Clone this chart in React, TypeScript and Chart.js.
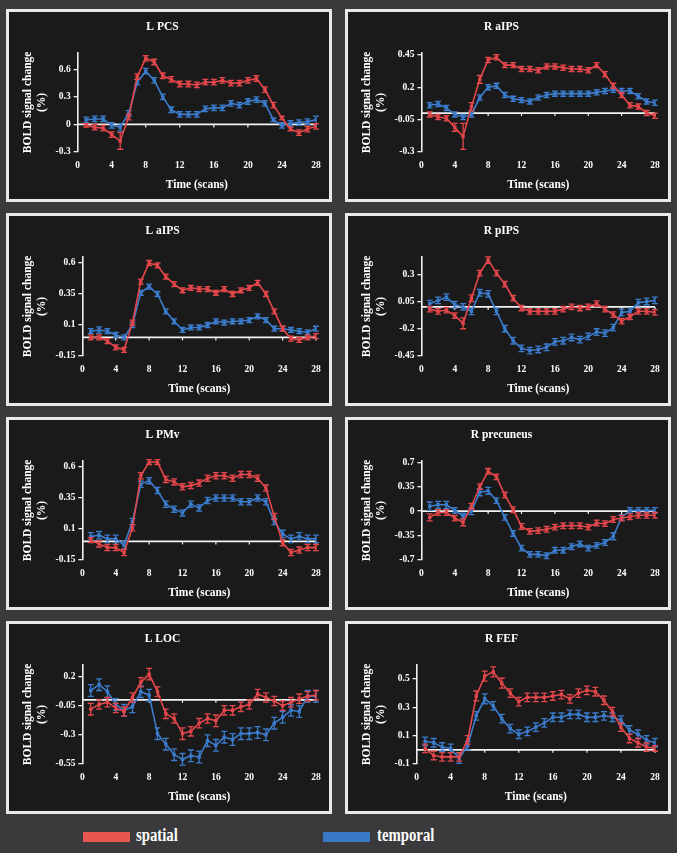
import React, { useEffect, useRef } from 'react';
import { Chart, registerables } from 'chart.js';

Chart.register(...registerables);

// ---------- data ----------
const scans = [1, 2, 3, 4, 5, 6, 7, 8, 9, 10, 11, 12, 13, 14, 15, 16, 17, 18, 19, 20, 21, 22, 23, 24, 25, 26, 27, 28];
const xTickValues = [0, 4, 8, 12, 16, 20, 24, 28];

const seriesNames = ['spatial', 'temporal'];

// L PCS
const lpcsSpatial = [-0.01, -0.03, -0.04, -0.11, -0.18, 0.08, 0.52, 0.72, 0.68, 0.53, 0.49, 0.44, 0.44, 0.43, 0.46, 0.46, 0.48, 0.45, 0.45, 0.48, 0.5, 0.38, 0.21, 0.07, -0.05, -0.09, -0.05, -0.02];
const lpcsSpatialErr = [0.02, 0.03, 0.03, 0.03, 0.09, 0.03, 0.03, 0.03, 0.03, 0.03, 0.03, 0.03, 0.03, 0.03, 0.03, 0.03, 0.03, 0.03, 0.03, 0.03, 0.03, 0.03, 0.03, 0.02, 0.02, 0.03, 0.03, 0.03];
const lpcsTemporal = [0.05, 0.06, 0.06, -0.01, -0.03, 0.12, 0.46, 0.58, 0.48, 0.3, 0.16, 0.11, 0.11, 0.11, 0.17, 0.18, 0.18, 0.23, 0.21, 0.25, 0.27, 0.23, 0.05, -0.01, 0.01, 0.02, 0.03, 0.05];
const lpcsTemporalErr = [0.03, 0.03, 0.03, 0.03, 0.04, 0.03, 0.03, 0.03, 0.03, 0.03, 0.03, 0.03, 0.03, 0.03, 0.03, 0.03, 0.03, 0.03, 0.03, 0.03, 0.03, 0.03, 0.02, 0.03, 0.03, 0.03, 0.03, 0.04];
const lpcsTicks = [-0.3, 0, 0.3, 0.6];

// R aIPS
const raipsSpatial = [-0.01, -0.03, -0.04, -0.11, -0.18, 0.05, 0.26, 0.41, 0.43, 0.37, 0.37, 0.34, 0.34, 0.33, 0.36, 0.36, 0.35, 0.34, 0.34, 0.33, 0.37, 0.3, 0.21, 0.14, 0.06, 0.05, 0.0, -0.02];
const raipsSpatialErr = [0.02, 0.02, 0.02, 0.03, 0.1, 0.03, 0.03, 0.02, 0.02, 0.02, 0.02, 0.02, 0.02, 0.02, 0.02, 0.02, 0.02, 0.02, 0.02, 0.02, 0.02, 0.02, 0.02, 0.02, 0.02, 0.02, 0.02, 0.02];
const raipsTemporal = [0.06, 0.07, 0.04, -0.01, -0.03, -0.01, 0.12, 0.2, 0.21, 0.14, 0.11, 0.1, 0.09, 0.12, 0.14, 0.15, 0.15, 0.15, 0.15, 0.15, 0.16, 0.17, 0.18, 0.17, 0.17, 0.13, 0.09, 0.08];
const raipsTemporalErr = [0.02, 0.02, 0.02, 0.02, 0.02, 0.02, 0.02, 0.02, 0.02, 0.02, 0.02, 0.02, 0.02, 0.02, 0.02, 0.02, 0.02, 0.02, 0.02, 0.02, 0.02, 0.02, 0.02, 0.02, 0.02, 0.02, 0.02, 0.02];
const raipsTicks = [-0.3, -0.05, 0.2, 0.45];

// L aIPS
const laipsSpatial = [0.0, 0.0, -0.03, -0.08, -0.1, 0.12, 0.45, 0.6, 0.58, 0.49, 0.43, 0.38, 0.4, 0.39, 0.39, 0.36, 0.39, 0.35, 0.38, 0.4, 0.44, 0.35, 0.21, 0.07, -0.01, -0.02, 0.0, 0.01];
const laipsSpatialErr = [0.02, 0.02, 0.02, 0.02, 0.02, 0.02, 0.02, 0.02, 0.02, 0.02, 0.02, 0.02, 0.02, 0.02, 0.02, 0.02, 0.02, 0.02, 0.02, 0.02, 0.02, 0.02, 0.02, 0.02, 0.02, 0.02, 0.02, 0.02];
const laipsTemporal = [0.05, 0.06, 0.05, 0.02, 0.0, 0.1, 0.36, 0.41, 0.35, 0.21, 0.13, 0.06, 0.08, 0.08, 0.1, 0.13, 0.12, 0.13, 0.13, 0.14, 0.17, 0.14, 0.07, 0.07, 0.06, 0.05, 0.04, 0.07];
const laipsTemporalErr = [0.02, 0.025, 0.02, 0.02, 0.02, 0.02, 0.02, 0.02, 0.02, 0.02, 0.02, 0.02, 0.02, 0.02, 0.02, 0.02, 0.02, 0.02, 0.02, 0.02, 0.02, 0.02, 0.02, 0.02, 0.02, 0.02, 0.02, 0.02];
const laipsTicks = [-0.15, 0.1, 0.35, 0.6];

// R pIPS
const rpipsSpatial = [-0.02, -0.04, -0.03, -0.08, -0.15, 0.08, 0.31, 0.43, 0.31, 0.21, 0.08, -0.01, -0.04, -0.04, -0.04, -0.04, -0.02, 0.0, -0.01, 0.0, 0.03, -0.02, -0.07, -0.13, -0.09, -0.04, -0.04, -0.05];
const rpipsSpatialErr = [0.025, 0.025, 0.025, 0.025, 0.05, 0.03, 0.025, 0.03, 0.025, 0.025, 0.025, 0.025, 0.025, 0.025, 0.025, 0.025, 0.025, 0.025, 0.025, 0.025, 0.025, 0.025, 0.025, 0.025, 0.025, 0.025, 0.025, 0.025];
const rpipsTemporal = [0.03, 0.06, 0.09, 0.02, 0.0, -0.04, 0.13, 0.12, -0.04, -0.2, -0.31, -0.38, -0.4, -0.39, -0.37, -0.32, -0.31, -0.28, -0.3, -0.27, -0.23, -0.24, -0.19, -0.05, -0.04, 0.04, 0.05, 0.06];
const rpipsTemporalErr = [0.03, 0.03, 0.03, 0.03, 0.03, 0.03, 0.03, 0.03, 0.03, 0.03, 0.03, 0.03, 0.03, 0.03, 0.03, 0.03, 0.03, 0.03, 0.03, 0.03, 0.03, 0.03, 0.03, 0.03, 0.03, 0.03, 0.03, 0.03];
const rpipsTicks = [-0.45, -0.2, 0.05, 0.3];

// L PMv
const lpmvSpatial = [0.01, -0.02, -0.05, -0.05, -0.09, 0.11, 0.53, 0.64, 0.64, 0.5, 0.48, 0.44, 0.45, 0.47, 0.51, 0.53, 0.53, 0.51, 0.54, 0.54, 0.51, 0.43, 0.2, -0.01, -0.09, -0.07, -0.05, -0.05];
const lpmvSpatialErr = [0.02, 0.025, 0.025, 0.025, 0.025, 0.025, 0.025, 0.02, 0.02, 0.025, 0.025, 0.025, 0.025, 0.025, 0.025, 0.025, 0.025, 0.025, 0.025, 0.025, 0.025, 0.025, 0.025, 0.025, 0.025, 0.025, 0.025, 0.025];
const lpmvTemporal = [0.04, 0.05, 0.02, 0.02, -0.03, 0.16, 0.46, 0.49, 0.41, 0.3, 0.26, 0.23, 0.3, 0.27, 0.33, 0.35, 0.35, 0.35, 0.32, 0.32, 0.35, 0.32, 0.16, 0.06, 0.02, 0.04, 0.02, 0.02];
const lpmvTemporalErr = [0.03, 0.03, 0.03, 0.03, 0.03, 0.025, 0.025, 0.025, 0.025, 0.025, 0.025, 0.025, 0.025, 0.025, 0.025, 0.025, 0.025, 0.025, 0.025, 0.025, 0.025, 0.025, 0.025, 0.03, 0.03, 0.03, 0.03, 0.03];
const lpmvTicks = [-0.15, 0.1, 0.35, 0.6];

// R precuneus
const rprecSpatial = [-0.09, -0.02, -0.02, -0.1, -0.16, 0.07, 0.35, 0.57, 0.49, 0.23, 0.02, -0.22, -0.29, -0.28, -0.26, -0.23, -0.21, -0.21, -0.21, -0.23, -0.17, -0.18, -0.12, -0.1, -0.08, -0.06, -0.06, -0.06];
const rprecSpatialErr = [0.05, 0.04, 0.04, 0.04, 0.05, 0.04, 0.04, 0.04, 0.04, 0.04, 0.04, 0.04, 0.04, 0.04, 0.04, 0.04, 0.04, 0.04, 0.04, 0.04, 0.04, 0.04, 0.04, 0.04, 0.04, 0.04, 0.04, 0.04];
const rprecTemporal = [0.07, 0.09, 0.09, 0.01, -0.07, 0.0, 0.27, 0.29, 0.15, -0.09, -0.32, -0.53, -0.62, -0.62, -0.64, -0.56, -0.56, -0.51, -0.47, -0.53, -0.49, -0.45, -0.36, -0.09, 0.01, 0.01, 0.01, 0.01];
const rprecTemporalErr = [0.06, 0.05, 0.05, 0.04, 0.04, 0.05, 0.05, 0.05, 0.04, 0.04, 0.04, 0.04, 0.04, 0.04, 0.04, 0.04, 0.04, 0.04, 0.04, 0.04, 0.04, 0.04, 0.05, 0.04, 0.04, 0.04, 0.04, 0.04];
const rprecTicks = [-0.7, -0.35, 0, 0.35, 0.7];

// L LOC
const llocSpatial = [-0.08, -0.04, -0.02, -0.07, -0.1, 0.02, 0.15, 0.22, 0.07, -0.12, -0.16, -0.29, -0.27, -0.2, -0.16, -0.18, -0.09, -0.09, -0.06, -0.04, 0.05, 0.02, -0.01, -0.05, -0.02, 0.01, 0.03, 0.04];
const llocSpatialErr = [0.05, 0.04, 0.04, 0.04, 0.04, 0.04, 0.04, 0.05, 0.04, 0.04, 0.04, 0.05, 0.04, 0.04, 0.04, 0.05, 0.04, 0.04, 0.04, 0.04, 0.04, 0.04, 0.04, 0.04, 0.04, 0.04, 0.04, 0.04];
const llocTemporal = [0.08, 0.13, 0.07, -0.04, -0.09, -0.06, 0.07, 0.04, -0.29, -0.38, -0.47, -0.51, -0.48, -0.49, -0.35, -0.39, -0.32, -0.34, -0.29, -0.29, -0.28, -0.3, -0.2, -0.15, -0.09, -0.1, 0.03, 0.03];
const llocTemporalErr = [0.05, 0.05, 0.05, 0.05, 0.05, 0.05, 0.05, 0.05, 0.05, 0.05, 0.05, 0.05, 0.05, 0.05, 0.05, 0.05, 0.05, 0.05, 0.05, 0.05, 0.05, 0.05, 0.05, 0.05, 0.05, 0.05, 0.05, 0.05];
const llocTicks = [-0.55, -0.3, -0.05, 0.2];

// R FEF
const rfefSpatial = [0.01, -0.04, -0.05, -0.05, -0.05, 0.07, 0.38, 0.52, 0.55, 0.47, 0.4, 0.34, 0.37, 0.37, 0.37, 0.38, 0.39, 0.36, 0.4, 0.42, 0.41, 0.35, 0.27, 0.16, 0.08, 0.05, 0.02, 0.01];
const rfefSpatialErr = [0.03, 0.03, 0.03, 0.03, 0.03, 0.03, 0.035, 0.035, 0.035, 0.035, 0.03, 0.03, 0.03, 0.03, 0.03, 0.03, 0.03, 0.03, 0.03, 0.03, 0.03, 0.03, 0.03, 0.03, 0.03, 0.03, 0.03, 0.02];
const rfefTemporal = [0.06, 0.05, 0.02, 0.01, -0.06, 0.03, 0.24, 0.36, 0.31, 0.22, 0.15, 0.11, 0.13, 0.16, 0.19, 0.23, 0.23, 0.25, 0.25, 0.23, 0.23, 0.24, 0.23, 0.21, 0.14, 0.11, 0.07, 0.05];
const rfefTemporalErr = [0.03, 0.03, 0.03, 0.03, 0.035, 0.03, 0.03, 0.035, 0.03, 0.03, 0.03, 0.03, 0.03, 0.03, 0.03, 0.03, 0.03, 0.03, 0.03, 0.03, 0.03, 0.03, 0.03, 0.03, 0.03, 0.03, 0.03, 0.03];
const rfefTicks = [-0.1, 0.1, 0.3, 0.5];

// ---------- styles ----------
const RED = '#e3474b';
const BLUE = '#3c7ccc';
const PAGE_BG = '#3a3a3c';
const PANEL_BG = '#1a1a1a';
const SERIF = "'Liberation Serif', 'Times New Roman', serif";

type PanelDef = {
  title: string;
  spatial: number[];
  spatialErr: number[];
  temporal: number[];
  temporalErr: number[];
  ticks: number[];
  yMax: number;
  left: number;
  top: number;
};

const COL = [6, 345];
const ROW = [9, 213, 417, 621];

const panels: PanelDef[] = [
  { title: 'L PCS', spatial: lpcsSpatial, spatialErr: lpcsSpatialErr, temporal: lpcsTemporal, temporalErr: lpcsTemporalErr, ticks: lpcsTicks, yMax: 0.78, left: COL[0], top: ROW[0] },
  { title: 'R aIPS', spatial: raipsSpatial, spatialErr: raipsSpatialErr, temporal: raipsTemporal, temporalErr: raipsTemporalErr, ticks: raipsTicks, yMax: 0.465, left: COL[1], top: ROW[0] },
  { title: 'L aIPS', spatial: laipsSpatial, spatialErr: laipsSpatialErr, temporal: laipsTemporal, temporalErr: laipsTemporalErr, ticks: laipsTicks, yMax: 0.65, left: COL[0], top: ROW[1] },
  { title: 'R pIPS', spatial: rpipsSpatial, spatialErr: rpipsSpatialErr, temporal: rpipsTemporal, temporalErr: rpipsTemporalErr, ticks: rpipsTicks, yMax: 0.46, left: COL[1], top: ROW[1] },
  { title: 'L PMv', spatial: lpmvSpatial, spatialErr: lpmvSpatialErr, temporal: lpmvTemporal, temporalErr: lpmvTemporalErr, ticks: lpmvTicks, yMax: 0.65, left: COL[0], top: ROW[2] },
  { title: 'R precuneus', spatial: rprecSpatial, spatialErr: rprecSpatialErr, temporal: rprecTemporal, temporalErr: rprecTemporalErr, ticks: rprecTicks, yMax: 0.72, left: COL[1], top: ROW[2] },
  { title: 'L LOC', spatial: llocSpatial, spatialErr: llocSpatialErr, temporal: llocTemporal, temporalErr: llocTemporalErr, ticks: llocTicks, yMax: 0.3, left: COL[0], top: ROW[3] },
  { title: 'R FEF', spatial: rfefSpatial, spatialErr: rfefSpatialErr, temporal: rfefTemporal, temporalErr: rfefTemporalErr, ticks: rfefTicks, yMax: 0.6, left: COL[1], top: ROW[3] },
];

// ---------- plugins ----------
const zeroLinePlugin = {
  id: 'zeroLine',
  beforeDatasetsDraw(chart: any) {
    const { ctx, chartArea, scales } = chart;
    const y = scales.y.getPixelForValue(0);
    ctx.save();
    ctx.strokeStyle = '#f2f2f2';
    ctx.lineWidth = 1.8;
    ctx.beginPath();
    ctx.moveTo(chartArea.left, y);
    ctx.lineTo(chartArea.right, y);
    ctx.stroke();
    // small tick marks on the zero line at the x tick positions
    ctx.lineWidth = 1.2;
    xTickValues.forEach((v) => {
      if (v === 0) return;
      const x = scales.x.getPixelForValue(v);
      ctx.beginPath();
      ctx.moveTo(x, y);
      ctx.lineTo(x, y + 3);
      ctx.stroke();
    });
    ctx.restore();
  },
};

const errorBarPlugin = {
  id: 'errorBars',
  afterDatasetDraw(chart: any, args: any) {
    const ds = chart.data.datasets[args.index];
    const errs: number[] | undefined = ds.errors;
    if (!errs) return;
    const { ctx } = chart;
    const yScale = chart.scales.y;
    ctx.save();
    ctx.strokeStyle = ds.borderColor;
    ctx.lineWidth = 1.3;
    args.meta.data.forEach((pt: any, i: number) => {
      const v = ds.data[i].y;
      const e = errs[i];
      const yTop = yScale.getPixelForValue(v + e);
      const yBot = yScale.getPixelForValue(v - e);
      ctx.beginPath();
      ctx.moveTo(pt.x, yTop);
      ctx.lineTo(pt.x, yBot);
      ctx.moveTo(pt.x - 3, yTop);
      ctx.lineTo(pt.x + 3, yTop);
      ctx.moveTo(pt.x - 3, yBot);
      ctx.lineTo(pt.x + 3, yBot);
      ctx.stroke();
    });
    ctx.restore();
  },
};

function Panel({ def }: { def: PanelDef }) {
  const ref = useRef<HTMLCanvasElement | null>(null);
  useEffect(() => {
    if (!ref.current) return;
    const mk = (vals: number[], errs: number[], color: string, label: string) => ({
      label,
      data: scans.map((x, i) => ({ x, y: vals[i] })),
      errors: errs,
      borderColor: color,
      backgroundColor: color,
      borderWidth: 1.6,
      pointStyle: 'rect',
      pointRadius: 2.4,
      pointBorderWidth: 0,
      tension: 0,
    });
    const chart = new Chart(ref.current, {
      type: 'line',
      data: {
        datasets: [
          mk(def.spatial, def.spatialErr, RED, seriesNames[0]),
          mk(def.temporal, def.temporalErr, BLUE, seriesNames[1]),
        ] as any,
      },
      options: {
        animation: false,
        responsive: false,
        maintainAspectRatio: false,
        layout: { padding: { left: 0, right: 13, top: 0, bottom: 0 } },
        plugins: {
          legend: { display: false },
          tooltip: { enabled: false },
          title: {
            display: true,
            text: def.title,
            color: '#ffffff',
            font: { family: SERIF, size: 11.5, weight: 'bold' },
            padding: { top: 8, bottom: 19 },
          },
        },
        scales: {
          x: {
            type: 'linear',
            min: 0,
            max: 28,
            afterBuildTicks: (scale: any) => {
              scale.ticks = xTickValues.map((v) => ({ value: v }));
            },
            afterFit: (scale: any) => {
              scale.height = 47;
            },
            grid: { display: false, drawTicks: false },
            border: { display: false },
            ticks: {
              color: '#ffffff',
              padding: 8,
              font: { family: SERIF, size: 9.5, weight: 'bold' },
              callback: (v: any) => String(v),
            },
            title: {
              display: true,
              text: 'Time (scans)',
              color: '#ffffff',
              font: { family: SERIF, size: 11.5, weight: 'bold' },
              padding: { top: 0, bottom: 7 },
            },
          },
          y: {
            type: 'linear',
            min: def.ticks[0],
            max: def.yMax,
            afterBuildTicks: (scale: any) => {
              scale.ticks = def.ticks.map((v) => ({ value: v }));
            },
            grid: {
              drawOnChartArea: false,
              drawTicks: true,
              tickLength: 4,
              color: '#f0f0f0',
              lineWidth: 1.3,
            },
            border: { display: true, color: '#f0f0f0', width: 1.6 },
            ticks: {
              color: '#ffffff',
              padding: 3,
              font: { family: SERIF, size: 9.5, weight: 'bold' },
              callback: (v: any) => String(Number(v)),
            },
            title: {
              display: true,
              text: ['BOLD signal change', '(%)'],
              color: '#ffffff',
              font: { family: SERIF, size: 11.5, weight: 'bold' },
              padding: { top: 12, bottom: 4 },
            },
          },
        },
      },
      plugins: [zeroLinePlugin, errorBarPlugin],
    } as any);
    return () => chart.destroy();
  }, [def]);

  return (
    <div
      style={{
        position: 'absolute',
        left: def.left,
        top: def.top,
        width: 326,
        height: 193,
        boxSizing: 'border-box',
        border: '3px solid #e9e9e9',
        background: PANEL_BG,
      }}
    >
      <canvas ref={ref} width={320} height={187} style={{ display: 'block', width: 320, height: 187 }} />
    </div>
  );
}

export default function App() {
  return (
    <div
      style={{
        position: 'absolute',
        left: 0,
        top: 0,
        width: 677,
        height: 853,
        background: PAGE_BG,
        overflow: 'hidden',
      }}
    >
      {panels.map((p) => (
        <Panel key={p.title} def={p} />
      ))}
      <div style={{ position: 'absolute', left: 83, top: 832, width: 47, height: 10, background: '#e8574f' }} />
      <div
        style={{
          position: 'absolute',
          left: 136,
          top: 824,
          fontFamily: SERIF,
          fontWeight: 'bold',
          fontSize: 18,
          color: '#ffffff',
          transform: 'scaleX(0.82)',
          transformOrigin: 'left center',
          lineHeight: '22px',
        }}
      >
        {seriesNames[0]}
      </div>
      <div style={{ position: 'absolute', left: 323, top: 832, width: 47, height: 10, background: '#3a78c6' }} />
      <div
        style={{
          position: 'absolute',
          left: 377,
          top: 824,
          fontFamily: SERIF,
          fontWeight: 'bold',
          fontSize: 18,
          color: '#ffffff',
          transform: 'scaleX(0.82)',
          transformOrigin: 'left center',
          lineHeight: '22px',
        }}
      >
        {seriesNames[1]}
      </div>
    </div>
  );
}
